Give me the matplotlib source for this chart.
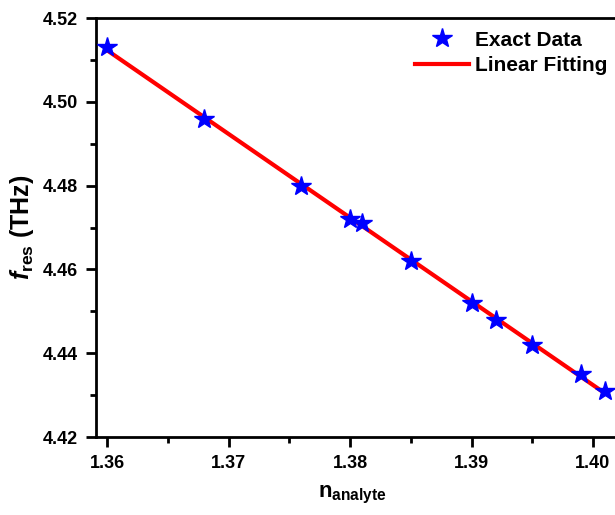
import numpy as np
import matplotlib
matplotlib.use('Agg')
import matplotlib.pyplot as plt

plt.rcParams['font.family'] = ['Liberation Sans', 'DejaVu Sans']
plt.rcParams['font.weight'] = 'bold'
plt.rcParams['mathtext.fontset'] = 'custom'
plt.rcParams['mathtext.rm'] = 'Liberation Sans:bold'
plt.rcParams['mathtext.bf'] = 'Liberation Sans:bold'
plt.rcParams['mathtext.it'] = 'Liberation Sans:italic:bold'

n_analyte = [1.360, 1.368, 1.376, 1.380, 1.381, 1.385, 1.390, 1.392, 1.395, 1.399, 1.401]
f_res = [4.513, 4.496, 4.480, 4.472, 4.471, 4.462, 4.452, 4.448, 4.442, 4.435, 4.431]

x = np.array(n_analyte)
y = np.array(f_res)
slope, icpt = np.polyfit(x, y, 1)

W, H = 615, 515
fig = plt.figure(figsize=(W / 100, H / 100), dpi=100)
ax = fig.add_axes([96 / W, (H - 437) / H, (640 - 96) / W, (437 - 18) / H])

ax.plot(x, slope * x + icpt, color='red', lw=3, label='Linear Fitting', zorder=2)
ax.plot(x, y, ls='none', marker='*', ms=15, color='blue', label='Exact Data', zorder=3)

ax.set_xlim(1.35909, 1.40387)
ax.set_ylim(4.42, 4.52)
ax.set_xticks([1.36, 1.37, 1.38, 1.39, 1.40])
ax.set_xticks([1.365, 1.375, 1.385, 1.395], minor=True)
ax.set_yticks([4.42, 4.44, 4.46, 4.48, 4.50, 4.52])
ax.set_yticks([4.43, 4.45, 4.47, 4.49, 4.51], minor=True)
ax.set_xticklabels(['1.36', '1.37', '1.38', '1.39', '1.40'])
ax.set_yticklabels(['4.42', '4.44', '4.46', '4.48', '4.50', '4.52'])

for s in ax.spines.values():
    s.set_linewidth(2)
ax.spines['right'].set_visible(False)
ax.tick_params(which='major', direction='out', length=7, width=2, labelsize=13, pad=6)
ax.tick_params(which='minor', direction='out', length=4, width=2)

ax.set_xlabel(r'n$_{\mathbf{analyte}}$', fontsize=16, fontweight='bold')
ax.set_ylabel(r'$\mathit{f}_{\mathbf{res}}$ (THz)', fontsize=18, fontweight='bold')
ax.xaxis.set_label_coords((352 - 96) / (640 - 96), -0.112)
ax.yaxis.set_label_coords(-(96 - 36) / (640 - 96), 0.5)

h, l = ax.get_legend_handles_labels()
ax.legend(h[::-1], l[::-1], loc='upper left',
          bbox_to_anchor=((396 - 96) / (640 - 96), 1.0 + 6 / 419),
          frameon=False, prop={'size': 15, 'weight': 'bold'}, handlelength=2.6,
          handletextpad=0.3, labelspacing=0.3)

fig.savefig('out.png', dpi=100)
